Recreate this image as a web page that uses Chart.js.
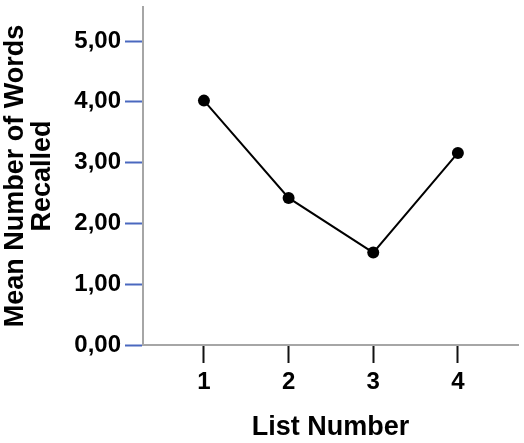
<!DOCTYPE html>
<html>
<head>
<meta charset="utf-8">
<script src="https://cdn.jsdelivr.net/npm/chart.js@4"></script>
<style>
  body { margin: 0; background: #fff; }
</style>
</head>
<body>
<canvas id="myChart" width="524" height="443"></canvas>
<script>
  // data
  const listNumbers = [1, 2, 3, 4];
  const meanRecalled = [4.02, 2.42, 1.52, 3.16];
  const yTickValues = [0, 1, 2, 3, 4, 5];

  const points = [];
  for (let i = 0; i < listNumbers.length; i++) points.push({ x: listNumbers[i], y: meanRecalled[i] });

  const fam = "'Liberation Sans', Arial, sans-serif";
  const ctx = document.getElementById('myChart');

  new Chart(ctx, {
    type: 'line',
    data: {
      datasets: [{
        label: 'Mean Number of Words Recalled',
        data: points,
        borderColor: '#000',
        backgroundColor: '#000',
        borderWidth: 2,
        pointRadius: 6,
        pointBackgroundColor: '#000',
        pointBorderWidth: 0,
        tension: 0
      }]
    },
    options: {
      responsive: false,
      devicePixelRatio: 1,
      animation: false,
      layout: { padding: { top: 7, right: 6, left: 0, bottom: 0 } },
      plugins: { legend: { display: false }, tooltip: { enabled: false } },
      scales: {
        x: {
          type: 'linear',
          min: 0.28,
          max: 4.71,
          afterFit: s => { s.height = 98; s.paddingLeft = 0; s.paddingRight = 0; },
          afterBuildTicks: s => { s.ticks = listNumbers.map(v => ({ value: v })); },
          border: { color: '#a6a6a6', width: 2 },
          grid: { drawOnChartArea: false, drawTicks: true, tickLength: 18, tickColor: '#111', tickWidth: 2 },
          ticks: {
            color: '#000',
            padding: 5,
            font: { family: fam, size: 24, weight: 'bold' }
          },
          title: {
            display: true,
            text: 'List Number',
            color: '#000',
            padding: { top: 0, bottom: 2 },
            font: { family: fam, size: 27, weight: 'bold', lineHeight: 1 }
          }
        },
        y: {
          min: 0,
          max: 5.56,
          afterFit: s => { s.width = 143; s.paddingTop = 0; s.paddingBottom = 0; },
          afterBuildTicks: s => { s.ticks = yTickValues.map(v => ({ value: v })); },
          border: { color: '#a6a6a6', width: 2 },
          grid: { drawOnChartArea: false, drawTicks: true, tickLength: 18, tickColor: '#4a68bf', tickWidth: 2 },
          ticks: {
            color: '#000',
            padding: 4,
            font: { family: fam, size: 24, weight: 'bold' },
            callback: v => v.toFixed(2).replace('.', ',')
          },
          title: {
            display: true,
            text: ['Mean Number of Words', 'Recalled'],
            color: '#000',
            padding: { top: 2, bottom: 0 },
            font: { family: fam, size: 27, weight: 'bold', lineHeight: 1 }
          }
        }
      }
    }
  });
</script>
</body>
</html>
